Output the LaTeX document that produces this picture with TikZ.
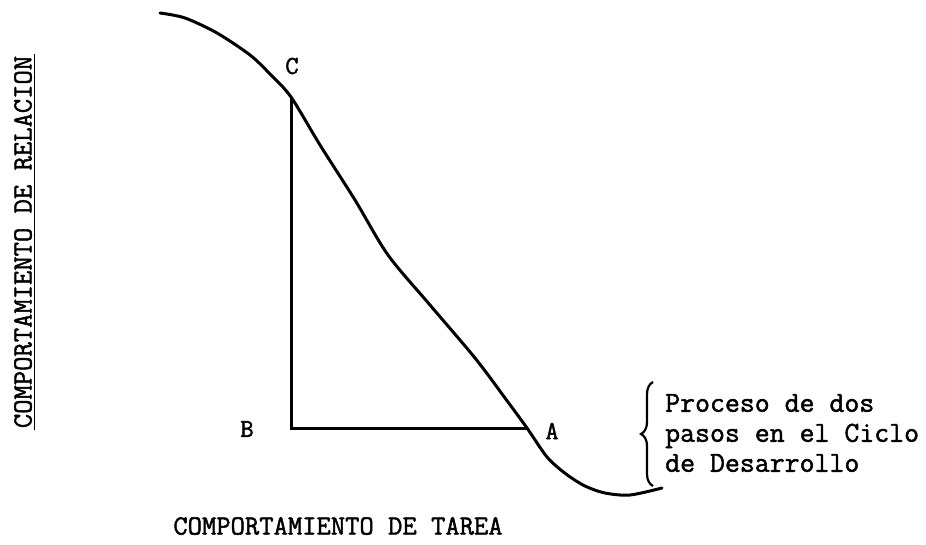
\documentclass[tikz,border=0pt]{standalone}
\usepackage{fontspec}
\newfontfamily\twfont{Latin Modern Mono}[FakeBold=1.6]
\usetikzlibrary{decorations.pathreplacing}
\begin{document}
\begin{tikzpicture}[x=1pt,y=-1pt,
  curve/.style={line width=3pt, line cap=round, line join=round},
  leg/.style={line width=3pt, line join=miter},
  ptlabel/.style={inner sep=0pt, font=\twfont\fontsize{26}{26}\selectfont},
  axlabel/.style={inner sep=0pt, font=\twfont\fontsize{27.8}{28}\selectfont},
  note/.style={inner sep=0pt, font=\twfont\fontsize{29}{30}\selectfont, anchor=west, align=left},
  bracestyle/.style={line width=2.2pt, decorate, decoration={brace, amplitude=12pt}}]
\fill[white] (0,0) rectangle (926,545);
\useasboundingbox (0,0) rectangle (926,545);
% key points
\coordinate (Cpt) at (291,97);
\coordinate (Bpt) at (291,428);
\coordinate (Apt) at (527,428);
% curve
\draw[curve] plot[smooth, tension=0.5] coordinates {(160,13) (185,18) (217,33) (250,55) (270,74) (Cpt) (320,145) (355,200) (388,255) (430,305) (475,358) (505,398) (Apt) (547,457) (566,474) (585,486) (605,493) (630,495) (662,488)};
% triangle legs
\draw[leg] (Cpt) -- (Bpt) -- (Apt);
% point labels
\node[ptlabel] (C) at (292,66) {C};
\node[ptlabel] (B) at (247,429) {B};
\node[ptlabel] (A) at (552,431) {A};
% axis labels
\node[axlabel, rotate=90] (ylab) at (23,242) {COMPORTAMIENTO DE RELACION};
\draw[line width=1.6pt] ([xshift=2.5pt,yshift=-2pt]ylab.south west) -- ([xshift=2.5pt,yshift=2pt]ylab.south east);
\node[axlabel] (xlab) at (338,526) {COMPORTAMIENTO DE TAREA};
% brace and note
\coordinate (brb) at (653,486);
\coordinate (brt) at (653,382);
\draw[bracestyle] (brb) -- (brt);
\node[note] (txt) at (665,433) {Proceso de dos\\pasos en el Ciclo\\de Desarrollo};
\end{tikzpicture}
\end{document}
